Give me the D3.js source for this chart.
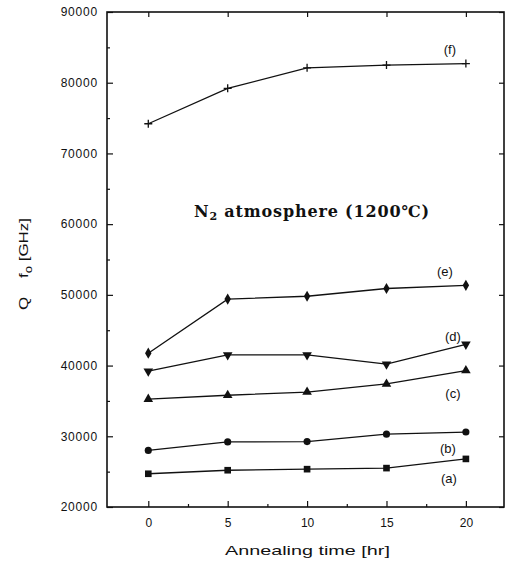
<!DOCTYPE html>
<html>
<head>
<meta charset="utf-8">
<script src="https://cdn.jsdelivr.net/npm/d3@7"></script>
<style>
  body { margin: 0; background: #fff; }
  svg { display: block; }
  .tick text { font-family: Arial, "Liberation Sans", sans-serif; font-size: 12px; fill: #111; }
  .lbl { font-family: Arial, "Liberation Sans", sans-serif; font-size: 13px; fill: #111; }
</style>
</head>
<body>
<div id="svg-container"></div>
<script>
// data
const hours = [0, 5, 10, 15, 20];
const seriesA = [24700, 25200, 25350, 25500, 26800];
const seriesB = [28000, 29200, 29250, 30300, 30600];
const seriesC = [35250, 35800, 36250, 37400, 39300];
const seriesD = [39200, 41500, 41500, 40200, 43000];
const seriesE = [41750, 49400, 49800, 50900, 51350];
const seriesF = [74200, 79200, 82100, 82500, 82700];
const seriesNames = ["(a)", "(b)", "(c)", "(d)", "(e)", "(f)"];
const xTicks = [0, 5, 10, 15, 20];
const yTicks = [20000, 30000, 40000, 50000, 60000, 70000, 80000, 90000];

const width = 511, height = 572;
const margin = { top: 12, right: 7, bottom: 65, left: 107 };

const svg = d3.select("#svg-container").append("svg")
  .attr("width", width).attr("height", height);

const x = d3.scaleLinear().domain([-2.6, 22.4]).range([margin.left, width - margin.right]);
const y = d3.scaleLinear().domain([20000, 90000]).range([height - margin.bottom, margin.top]);

// axes, ticks inward
const x0 = margin.left, x1 = width - margin.right;
const y0 = height - margin.bottom, y1 = margin.top;

svg.append("g").attr("transform", `translate(0,${y0})`)
  .call(d3.axisBottom(x).tickValues(xTicks).tickSize(-6).tickPadding(11))
  .call(g => g.select(".domain").remove());
svg.append("g").attr("transform", `translate(0,${y0})`)
  .call(d3.axisBottom(x).tickValues([2.5, 7.5, 12.5, 17.5]).tickSize(-3).tickFormat(""))
  .call(g => g.select(".domain").remove());
svg.append("g").attr("transform", `translate(${x0},0)`)
  .call(d3.axisLeft(y).tickValues(yTicks).tickSize(-6).tickPadding(9).tickFormat(d3.format("d")))
  .call(g => g.select(".domain").remove())
  .call(g => g.selectAll("text").attr("letter-spacing", "0.8px"));
svg.append("g").attr("transform", `translate(${x0},0)`)
  .call(d3.axisLeft(y).tickValues([25000, 35000, 45000, 55000, 65000, 75000, 85000]).tickSize(-3).tickFormat(""))
  .call(g => g.select(".domain").remove());
svg.append("g").attr("transform", `translate(${x1},0)`)
  .call(d3.axisRight(y).tickValues(yTicks).tickSize(-5).tickFormat(""))
  .call(g => g.select(".domain").remove());
svg.append("g").attr("transform", `translate(0,${y1})`)
  .call(d3.axisTop(x).tickValues(xTicks).tickSize(-5).tickFormat(""))
  .call(g => g.select(".domain").remove());

svg.append("rect")
  .attr("x", x0).attr("y", y1)
  .attr("width", x1 - x0).attr("height", y0 - y1)
  .attr("fill", "none").attr("stroke", "#111").attr("stroke-width", 1.6);

svg.selectAll(".tick line").attr("stroke", "#111").attr("stroke-width", 1.2);

// series
const allSeries = [seriesA, seriesB, seriesC, seriesD, seriesE, seriesF];
const symbols = [d3.symbolSquare, d3.symbolCircle, d3.symbolTriangle, d3.symbolTriangle, d3.symbolDiamond, d3.symbolCross];
const symSizes = [44, 40, 40, 40, 36, 0];

const line = d3.line().x((d, i) => x(hours[i])).y(d => y(d));

allSeries.forEach((s, k) => {
  svg.append("path").datum(s).attr("d", line)
    .attr("fill", "none").attr("stroke", "#111").attr("stroke-width", 1.3);

  const pts = svg.append("g").selectAll("g").data(s).join("g")
    .attr("transform", (d, i) => `translate(${x(hours[i])},${y(d)})` + (k === 3 ? " rotate(180)" : ""));
  if (k === 5) {
    pts.append("path").attr("d", "M-4,0H4M0,-4V4").attr("stroke", "#111").attr("stroke-width", 1.3);
  } else {
    pts.append("path").attr("d", d3.symbol(symbols[k], symSizes[k])).attr("fill", "#111");
  }
});

// series labels, offset from the last point of each series
const labelOffsets = [
  { dx: -17, dy: 24 },
  { dx: -18, dy: 21 },
  { dx: -13, dy: 27 },
  { dx: -13, dy: -3 },
  { dx: -21, dy: -9 },
  { dx: -16, dy: -10 }
];
svg.selectAll(".slbl").data(seriesNames).join("text")
  .attr("class", "lbl")
  .attr("x", (d, i) => x(hours[4]) + labelOffsets[i].dx)
  .attr("y", (d, i) => y(allSeries[i][4]) + labelOffsets[i].dy)
  .attr("text-anchor", "middle")
  .text(d => d);

// annotation
const ann = svg.append("text")
  .attr("x", 194).attr("y", 217)
  .attr("font-family", "'DejaVu Serif', 'Liberation Serif', serif")
  .attr("font-weight", "bold").attr("font-size", 16).attr("fill", "#111")
  .attr("textLength", 235).attr("lengthAdjust", "spacing");
ann.append("tspan").text("N");
ann.append("tspan").attr("font-size", 11).attr("dy", 3).text("2");
ann.append("tspan").attr("dy", -3).text(" atmosphere (1200℃)");

// stretch a text horizontally to a target width (the source font is wide)
function stretchTo(sel, tx, ty, rot, w) {
  const len = sel.node().getComputedTextLength();
  sel.attr("transform", `translate(${tx},${ty}) rotate(${rot}) scale(${w / len},1)`);
}

// axis titles
const xt = svg.append("text").attr("class", "lbl")
  .attr("font-size", 13.5)
  .text("Annealing time [hr]");
stretchTo(xt, 225, 555, 0, 165);

const yt = svg.append("text").attr("class", "lbl")
  .attr("font-size", 14)
  .style("white-space", "pre");
yt.append("tspan").text("Q    f");
yt.append("tspan").attr("font-size", 10).attr("dy", 4).text("o");
yt.append("tspan").attr("dy", -4).text(" [GHz]");
stretchTo(yt, 28, 310, -90, 92);
</script>
</body>
</html>
